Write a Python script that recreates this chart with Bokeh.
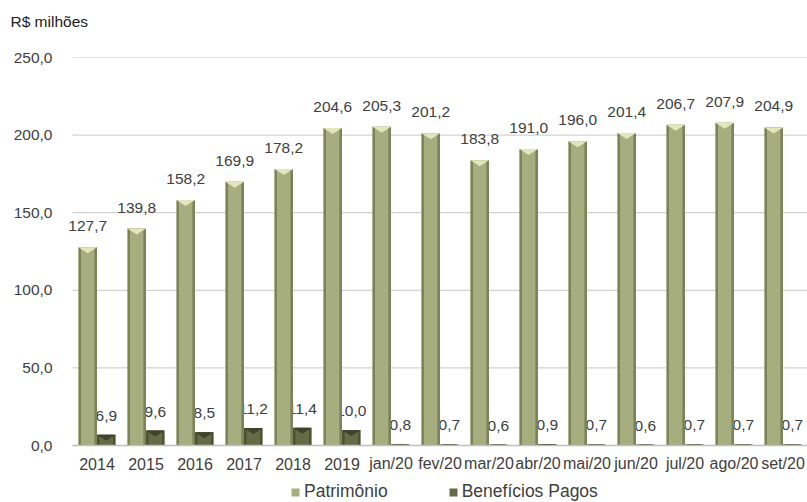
import numpy as np
from bokeh.plotting import figure
from bokeh.models import (Range1d, FixedTicker, CustomJSTickFormatter, Legend,
                          LegendItem, ColumnDataSource, Title)
from bokeh.core.properties import value
from bokeh.embed import file_html
from bokeh.resources import INLINE

categories = ["2014", "2015", "2016", "2017", "2018", "2019", "jan/20", "fev/20",
              "mar/20", "abr/20", "mai/20", "jun/20", "jul/20", "ago/20", "set/20"]
patrimonio = [127.7, 139.8, 158.2, 169.9, 178.2, 204.6, 205.3, 201.2, 183.8,
              191.0, 196.0, 201.4, 206.7, 207.9, 204.9]
beneficios = [6.9, 9.6, 8.5, 11.2, 11.4, 10.0, 0.8, 0.7, 0.6, 0.9, 0.7, 0.6,
              0.7, 0.7, 0.7]
y_ticks = [0, 50, 100, 150, 200, 250]

FONT = "Liberation Sans"
TXT = "#404040"

n = len(categories)
xc = np.arange(n) + 0.5
OFF = 0.19
BW = 0.38
PX_X = 49.0            # pixels per category
PX_Y = 388 / 250.0     # pixels per R$ milhão
X0 = -10 / PX_X
Y0 = -57 / PX_Y

def fmt(v):
    return f"{v:.1f}".replace(".", ",")

bevel = 6 / PX_Y

src = ColumnDataSource(dict(
    xc=xc, xp=xc - OFF, xb=xc + OFF,
    pat=patrimonio, ben=beneficios, zero=[0] * n, cat=categories,
    pat_lbl=[fmt(v) for v in patrimonio],
    ben_lbl=[fmt(v) for v in beneficios],
))

p = figure(width=807, height=502, x_range=Range1d(X0, n), y_range=Range1d(Y0, 250),
           output_backend="svg", toolbar_location=None, title=None,
           min_border_left=62, min_border_right=0, min_border_top=57,
           min_border_bottom=0)
p.outline_line_color = None
p.background_fill_color = "white"
p.border_fill_color = "white"
p.xaxis.visible = False

# title, pushed up by an empty spacer title nearer the plot area
spacer = Title(text=" ", text_font=FONT, text_font_size="19px", standoff=0)
p.add_layout(spacer, "above")
title = Title(text="R$ milhões", align="left", offset=-52, text_font=FONT,
              text_font_size="15.5px", text_font_style="normal",
              text_color="#202020")
p.add_layout(title, "above")

# grid
p.xgrid.visible = False
p.ygrid.visible = False
p.segment(x0=[0] * len(y_ticks), x1=[n] * len(y_ticks), y0=y_ticks, y1=y_ticks,
          line_color="#c8c8c8", line_width=1)

# y axis
p.yaxis.ticker = FixedTicker(ticks=y_ticks)
p.yaxis.formatter = CustomJSTickFormatter(code="return tick.toFixed(1).replace('.', ',');")
p.yaxis.axis_line_color = None
p.yaxis.major_tick_line_color = None
p.yaxis.minor_tick_line_color = None
p.yaxis.major_label_text_font = FONT
p.yaxis.major_label_text_font_size = "15.5px"
p.yaxis.major_label_text_color = TXT
p.yaxis.major_label_standoff = 4

# category labels
p.text(x="xc", y="zero", text="cat", source=src, y_offset=18,
       text_align="center", text_baseline="middle",
       text_font=value(FONT), text_font_size="16px", text_color=TXT)

# beneficios labels (drawn first so patrimonio bars overlap them)
p.text(x="xb", y="ben", text="ben_lbl", source=src, y_offset=-19,
       text_align="center", text_baseline="middle",
       text_font=value(FONT), text_font_size="15.5px", text_color=TXT)

# patrimonio bars
p.vbar(x="xp", top="pat", width=BW, source=src, fill_color="#7d8357",
       line_color=None)
r_pat = p.vbar(x="xp", top="pat", width=BW * 0.72, source=src,
               fill_color="#a6ae80", line_color=None)
# beneficios bars
p.vbar(x="xb", top="ben", width=BW, source=src, fill_color="#4d5233",
       line_color=None)
r_ben = p.vbar(x="xb", top="ben", width=BW * 0.72, source=src,
               fill_color="#656b47", line_color=None)

# bevel triangles at bar tops
tri_xs_p, tri_ys_p, tri_xs_b, tri_ys_b = [], [], [], []
for i in range(n):
    xp = xc[i] - OFF
    xb = xc[i] + OFF
    hp = min(bevel, patrimonio[i])
    hb = min(bevel, beneficios[i])
    tri_xs_p.append([xp - BW / 2, xp + BW / 2, xp])
    tri_ys_p.append([patrimonio[i], patrimonio[i], patrimonio[i] - hp])
    tri_xs_b.append([xb - BW / 2, xb + BW / 2, xb])
    tri_ys_b.append([beneficios[i], beneficios[i], beneficios[i] - hb])
p.patches(tri_xs_p, tri_ys_p, fill_color="#e3e6bd", line_color=None)
p.patches(tri_xs_b, tri_ys_b, fill_color="#3f432a", line_color=None)

# baseline
p.segment(x0=[0], x1=[n], y0=[0], y1=[0], line_color="#bfbfbf", line_width=1.5)

# patrimonio labels
p.text(x="xp", y="pat", text="pat_lbl", source=src, y_offset=-21,
       text_align="center", text_baseline="middle",
       text_font=value(FONT), text_font_size="15.5px", text_color=TXT)

legend = Legend(items=[LegendItem(label="Patrimônio", renderers=[r_pat]),
                       LegendItem(label="Benefícios Pagos", renderers=[r_ben])],
                location=(228, 0), orientation="horizontal",
                glyph_width=10, glyph_height=10, label_standoff=4, spacing=60,
                label_height=20,
                padding=0, margin=0, border_line_color=None,
                background_fill_alpha=0,
                label_text_font=FONT, label_text_font_size="17.5px",
                label_text_color=TXT)
p.add_layout(legend, "center")

open("out.html", "w").write(file_html(p, INLINE))
